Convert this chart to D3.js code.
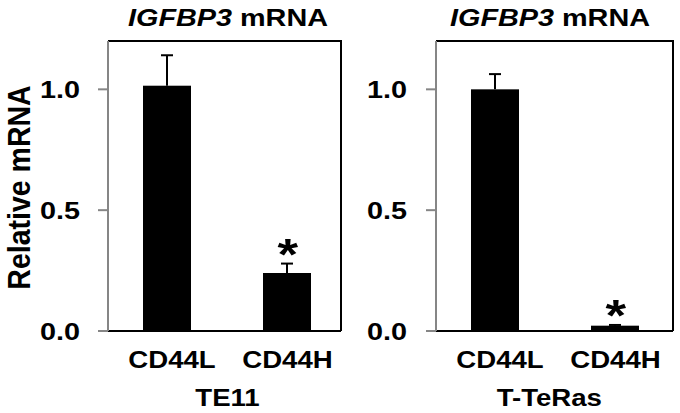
<!DOCTYPE html>
<html><head><meta charset="utf-8">
<script src="https://cdn.jsdelivr.net/npm/d3@7"></script>
<style>
html,body{margin:0;padding:0;background:#fff;}
svg{display:block;}
text{font-family:"Liberation Sans",Arial,sans-serif;font-weight:bold;fill:#000;}
</style></head>
<body>
<svg id="chart" width="680" height="413"></svg>
<script>
// ---- data ----
const categories = ["CD44L", "CD44H"];
const panelNames = ["TE11", "T-TeRas"];
const te11Values = [1.015, 0.240];
const te11Errors = [0.126, 0.039];
const tteRasValues = [1.0, 0.022];
const tteRasErrors = [0.063, 0.003];
const significant = [false, true];
const yTicks = [0.0, 0.5, 1.0];
const yTickLabels = ["0.0", "0.5", "1.0"];
const titleGene = "IGFBP3";
const titleRest = " mRNA";
const yAxisTitle = "Relative mRNA";

const svg = d3.select("#chart");
const SX = 1.2;

const panels = [
  {name: panelNames[0], values: te11Values, errors: te11Errors, x0: 108, x1: 341, labelX: 80, titleX: 228, groupX: 227.5},
  {name: panelNames[1], values: tteRasValues, errors: tteRasErrors, x0: 436, x1: 673, labelX: 407, titleX: 550, groupX: 549.3}
];
const yTop = 41, yBot = 331;
const y = d3.scaleLinear().domain([0, 1.2]).range([yBot, yTop]);

function stretchText(g, x, yy, txt, size, anchor, sx) {
  return g.append("text")
    .attr("transform", `translate(${x},${yy}) scale(${sx},1)`)
    .attr("text-anchor", anchor)
    .attr("font-size", size)
    .text(txt);
}

panels.forEach(p => {
  const g = svg.append("g");
  const x = d3.scaleBand().domain(categories)
    .range([p.x0 - 1, p.x0 - 1 + 240]).paddingInner(0.6).paddingOuter(0.3);

  // frame: top and right black
  g.append("path")
    .attr("d", `M${p.x0},${yTop}H${p.x1}V${yBot}`)
    .attr("fill", "none").attr("stroke", "#000").attr("stroke-width", 2);

  // bars
  g.selectAll("rect.bar").data(categories).enter().append("rect")
    .attr("x", d => x(d))
    .attr("width", x.bandwidth())
    .attr("y", (d, i) => y(p.values[i]))
    .attr("height", (d, i) => y(0) - y(p.values[i]))
    .attr("fill", "#000");

  // error bars (upper only)
  categories.forEach((c, i) => {
    const cx = x(c) + x.bandwidth() / 2;
    const top = y(p.values[i] + p.errors[i]);
    g.append("line").attr("x1", cx).attr("x2", cx)
      .attr("y1", y(p.values[i])).attr("y2", top)
      .attr("stroke", "#000").attr("stroke-width", 2);
    g.append("line").attr("x1", cx - 6).attr("x2", cx + 6)
      .attr("y1", top).attr("y2", top)
      .attr("stroke", "#000").attr("stroke-width", 2);
    if (significant[i]) {
      stretchText(g, cx + 0.7, top + 6, "*", 44, "middle", 1.2);
    }
    stretchText(g, cx + (i === 0 ? 5 : 0.5), 368, c, 24, "middle", 1.15);
  });

  // bottom axis
  g.append("line").attr("x1", p.x0).attr("x2", p.x1)
    .attr("y1", yBot).attr("y2", yBot)
    .attr("stroke", "#000").attr("stroke-width", 2);

  // left axis (gray) with ticks
  g.append("line").attr("x1", p.x0).attr("x2", p.x0)
    .attr("y1", yTop).attr("y2", yBot)
    .attr("stroke", "#868686").attr("stroke-width", 2);
  yTicks.forEach((t, i) => {
    g.append("line").attr("x1", p.x0 - 10).attr("x2", p.x0)
      .attr("y1", y(t)).attr("y2", y(t))
      .attr("stroke", "#868686").attr("stroke-width", 2);
    stretchText(g, p.labelX, y(t) + 8.5, yTickLabels[i], 24, "end", SX);
  });

  // title
  const tt = g.append("text")
    .attr("transform", `translate(${p.titleX},26) scale(${SX},1)`)
    .attr("text-anchor", "middle").attr("font-size", 24);
  tt.append("tspan").attr("font-style", "italic").text(titleGene);
  tt.append("tspan").text(titleRest);

  // group label
  stretchText(g, p.groupX, 406, p.name, 24, "middle", 1.15);
});

// y axis title
svg.append("text")
  .attr("transform", "translate(30,187.5) rotate(-90) scale(1,1.12)")
  .attr("text-anchor", "middle").attr("font-size", 28.5)
  .text(yAxisTitle);
</script>
</body></html>
